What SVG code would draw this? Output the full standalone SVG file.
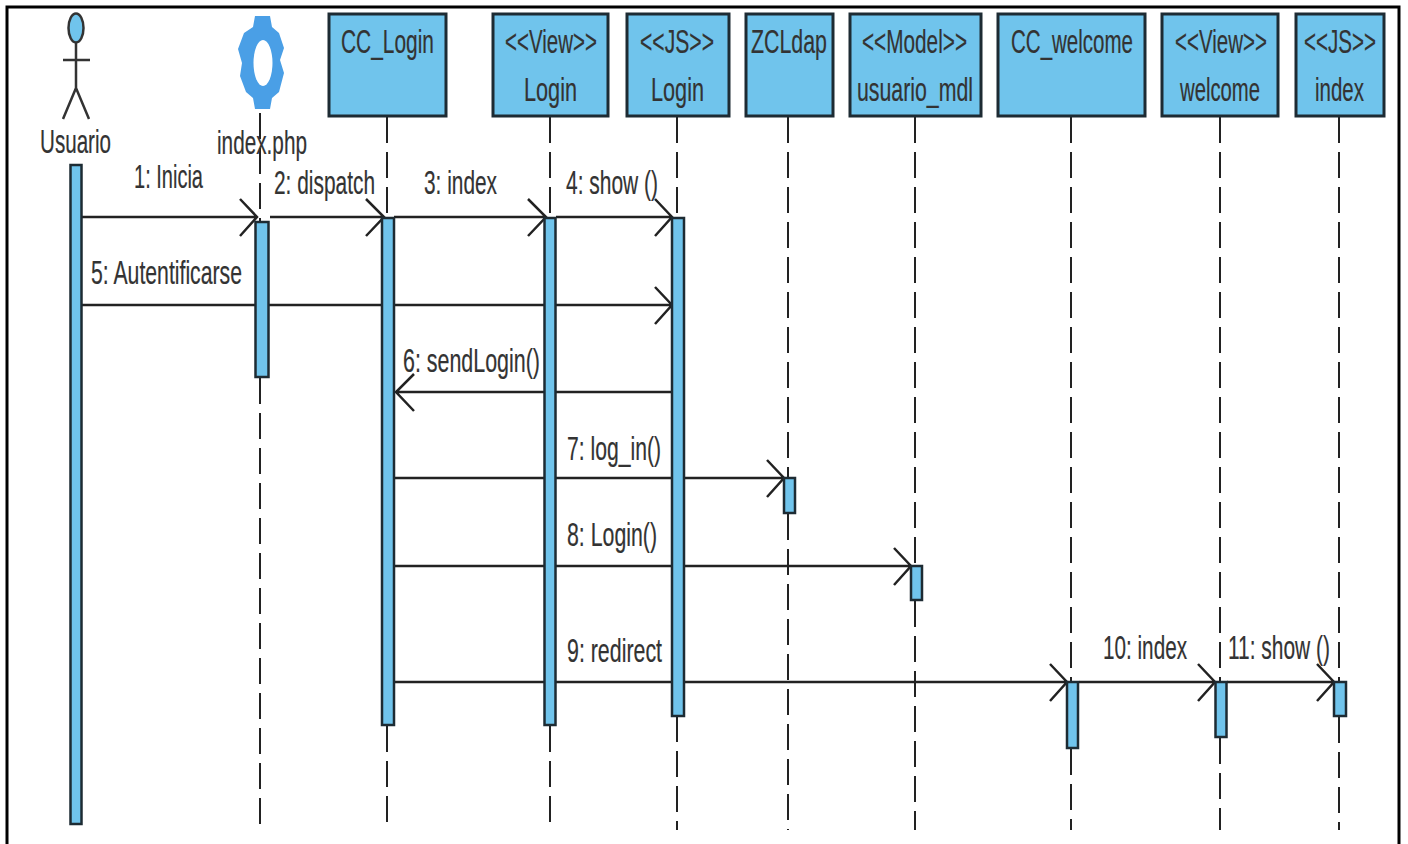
<svg xmlns="http://www.w3.org/2000/svg" width="1408" height="844" viewBox="0 0 1408 844">
<style>
text{font-family:"Liberation Sans",Arial,sans-serif;font-size:33px;fill:#333;stroke:#333;stroke-width:.2;lengthAdjust:spacingAndGlyphs}
.b{fill:#70c4ec;stroke:#1d2b33;stroke-width:3}
.a{fill:#70c4ec;stroke:#1d2b33;stroke-width:2.5}
.l{stroke:#222;stroke-width:2;stroke-dasharray:26 9;fill:none}
.m{stroke:#222;stroke-width:2.5;fill:none}
.h{stroke:#333;stroke-width:2.5;fill:none}
</style>
<rect x="0" y="0" width="1408" height="844" fill="#fff"/>
<path d="M7 844V7H1399V844" fill="none" stroke="#000" stroke-width="3"/>
<g id="lifelines">
<path class="l" d="M260 113V222M260 378V830"/>
<path class="l" d="M387 117V218M387 726V830"/>
<path class="l" d="M550 117V218M550 726V830"/>
<path class="l" d="M677 117V218M677 716V830"/>
<path class="l" d="M788 117V478M788 514V830"/>
<path class="l" d="M915 117V566M915 601V830"/>
<path class="l" d="M1071 117V682M1071 749V830"/>
<path class="l" d="M1220 117V682M1220 738V830"/>
<path class="l" d="M1339 117V682M1339 717V830"/>
</g>
<g id="connectors">
<path class="m" d="M82 217H257M240 199L257 217L240 236"/>
<path class="m" d="M270 217H384M366 199L384 217L366 236"/>
<path class="m" d="M394 217H546M528 199L546 217L528 236"/>
<path class="m" d="M556 217H672M655 199L672 217L655 236"/>
<path class="m" d="M82 305H672M655 287L672 305L655 324"/>
<path class="m" d="M672 392H396M414 374L396 392L414 411"/>
<path class="m" d="M394 478H784M767 460L784 478L767 497"/>
<path class="m" d="M394 566H911M894 548L911 566L894 585"/>
<path class="m" d="M394 682H1067M1050 664L1067 682L1050 701"/>
<path class="m" d="M1079 682H1215M1198 664L1215 682L1198 701"/>
<path class="m" d="M1227 682H1334M1317 664L1334 682L1317 701"/>
</g>
<g id="usuario">
<ellipse cx="76" cy="28" rx="7.500" ry="14.500" fill="#70c4ec" stroke="#333" stroke-width="2.500"/>
<path class="h" d="M76 43V88M63 60H90M76 88L63 119M76 88L89 119"/>
<text x="40" y="153" textLength="71" lengthAdjust="spacingAndGlyphs">Usuario</text>
<rect class="a" x="70.500" y="165" width="11" height="659"/>
</g>
<g id="index-php">
<path fill="#4a9fe6" d="M255 16L270 16L272 27L279 33L284 48L280 60L284 73L279 92L272 98L270 109L255 109L253 98L246 92L240 76L242 63L238 49L244 33L253 27Z"/>
<ellipse cx="263" cy="63" rx="9.500" ry="23" fill="#fff"/>
<text x="217" y="154" textLength="90" lengthAdjust="spacingAndGlyphs">index.php</text>
<rect class="a" x="255.500" y="222" width="13" height="155"/>
</g>
<g id="cc-login">
<rect class="b" x="329" y="14" width="117" height="102"/>
<text x="341" y="53" textLength="93" lengthAdjust="spacingAndGlyphs">CC_Login</text>
<rect class="a" x="382" y="218" width="12" height="507"/>
</g>
<g id="view-login">
<rect class="b" x="493" y="14" width="115" height="102"/>
<text x="505" y="53" textLength="92" lengthAdjust="spacingAndGlyphs">&lt;&lt;View&gt;&gt;</text>
<text x="524" y="101" textLength="53" lengthAdjust="spacingAndGlyphs">Login</text>
<rect class="a" x="544.500" y="218" width="11" height="507"/>
</g>
<g id="js-login">
<rect class="b" x="627" y="14" width="102" height="102"/>
<text x="640" y="53" textLength="74" lengthAdjust="spacingAndGlyphs">&lt;&lt;JS&gt;&gt;</text>
<text x="651" y="101" textLength="53" lengthAdjust="spacingAndGlyphs">Login</text>
<rect class="a" x="672" y="218" width="12" height="498"/>
</g>
<g id="zcldap">
<rect class="b" x="746" y="14" width="87" height="102"/>
<text x="751" y="53" textLength="76" lengthAdjust="spacingAndGlyphs">ZCLdap</text>
<rect class="a" x="784" y="478" width="11" height="35"/>
</g>
<g id="usuario-mdl">
<rect class="b" x="850" y="14" width="131" height="102"/>
<text x="862" y="53" textLength="105" lengthAdjust="spacingAndGlyphs">&lt;&lt;Model&gt;&gt;</text>
<text x="857" y="101" textLength="116" lengthAdjust="spacingAndGlyphs">usuario_mdl</text>
<rect class="a" x="911" y="566" width="11" height="34"/>
</g>
<g id="cc-welcome">
<rect class="b" x="998" y="14" width="147" height="102"/>
<text x="1011" y="53" textLength="122" lengthAdjust="spacingAndGlyphs">CC_welcome</text>
<rect class="a" x="1067" y="682" width="11" height="66"/>
</g>
<g id="view-welcome">
<rect class="b" x="1162" y="14" width="116" height="102"/>
<text x="1175" y="53" textLength="92" lengthAdjust="spacingAndGlyphs">&lt;&lt;View&gt;&gt;</text>
<text x="1180" y="101" textLength="80" lengthAdjust="spacingAndGlyphs">welcome</text>
<rect class="a" x="1215.500" y="682" width="11" height="55"/>
</g>
<g id="js-index">
<rect class="b" x="1296" y="14" width="88" height="102"/>
<text x="1304" y="53" textLength="72" lengthAdjust="spacingAndGlyphs">&lt;&lt;JS&gt;&gt;</text>
<text x="1315" y="101" textLength="49" lengthAdjust="spacingAndGlyphs">index</text>
<rect class="a" x="1334" y="682" width="12" height="34"/>
</g>
<g id="labels">
<text x="134" y="188" textLength="69" lengthAdjust="spacingAndGlyphs">1: Inicia</text>
<text x="274" y="194" textLength="101" lengthAdjust="spacingAndGlyphs">2: dispatch</text>
<text x="424" y="194" textLength="73" lengthAdjust="spacingAndGlyphs">3: index</text>
<text x="566" y="194" textLength="92" lengthAdjust="spacingAndGlyphs">4: show ()</text>
<text x="91" y="284" textLength="151" lengthAdjust="spacingAndGlyphs">5: Autentificarse</text>
<text x="403" y="372" textLength="137" lengthAdjust="spacingAndGlyphs">6: sendLogin()</text>
<text x="567" y="460" textLength="94" lengthAdjust="spacingAndGlyphs">7: log_in()</text>
<text x="567" y="546" textLength="90" lengthAdjust="spacingAndGlyphs">8: Login()</text>
<text x="567" y="662" textLength="95" lengthAdjust="spacingAndGlyphs">9: redirect</text>
<text x="1103" y="659" textLength="84" lengthAdjust="spacingAndGlyphs">10: index</text>
<text x="1228" y="659" textLength="102" lengthAdjust="spacingAndGlyphs">11: show ()</text>
</g>
</svg>
